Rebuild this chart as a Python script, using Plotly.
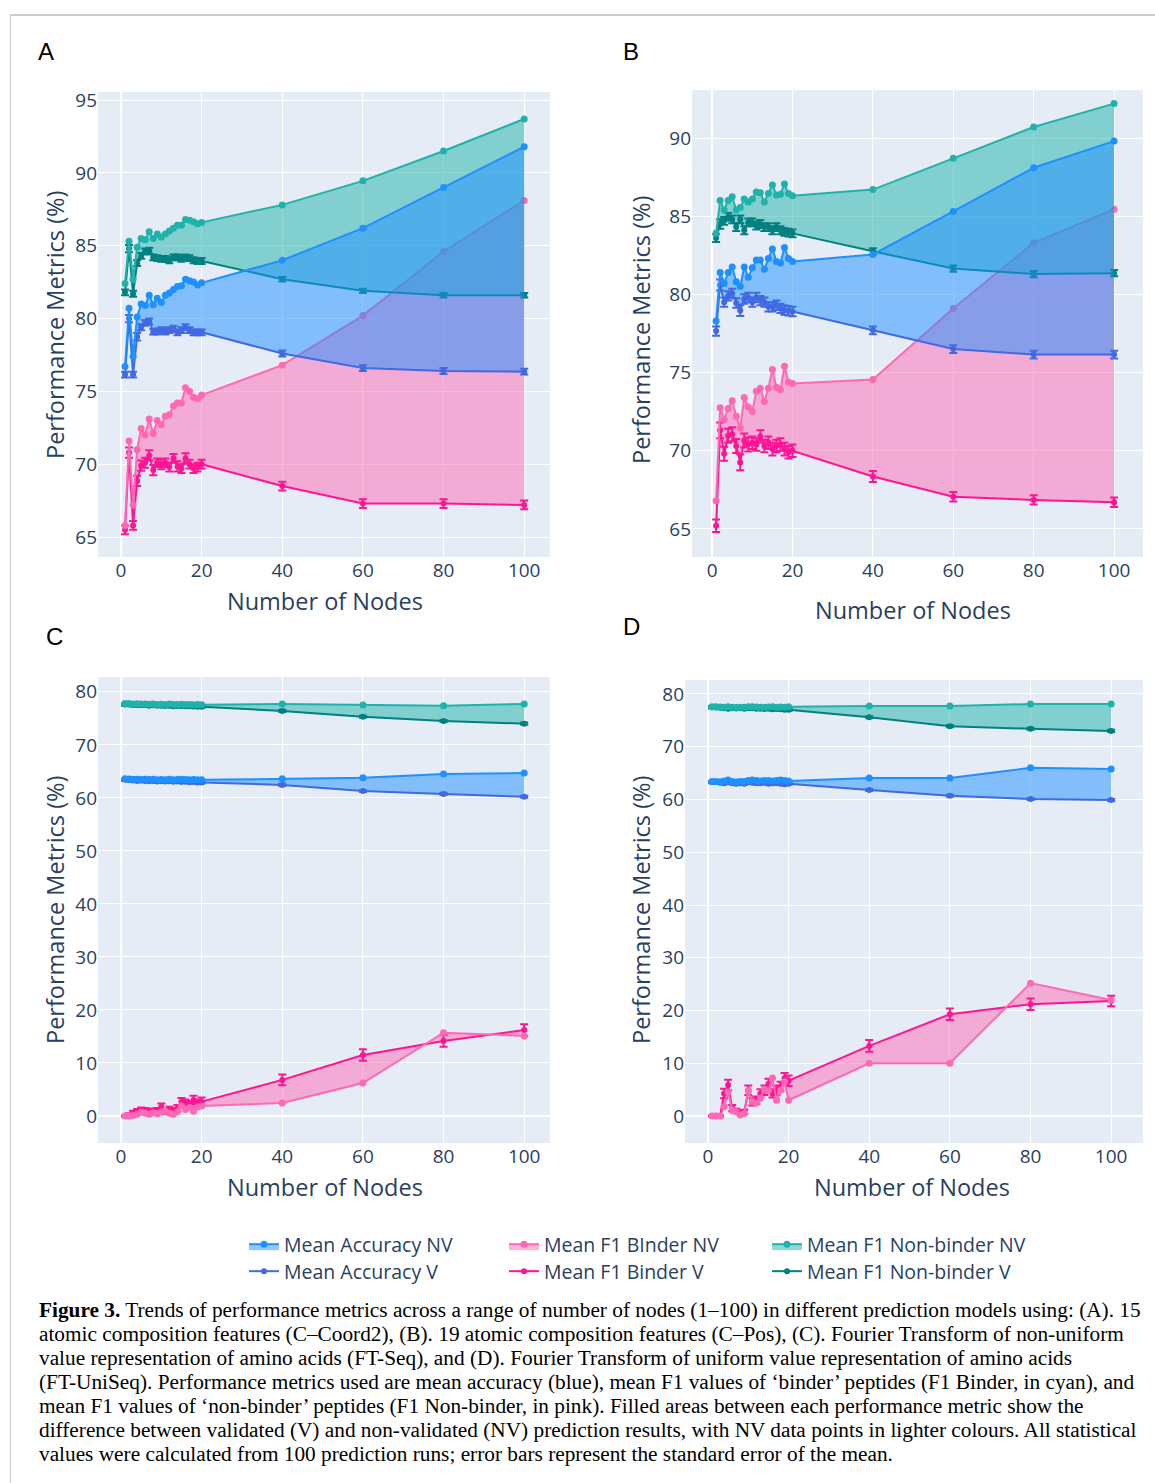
import plotly.graph_objects as go

W, H = 1155, 1483

# ---------------- data ----------------
nodes = [1, 2, 3, 4, 5, 6, 7, 8, 9, 10, 11, 12, 13, 14, 15, 16, 17, 18, 19, 20, 40, 60, 80, 100]

# Panel A
acc_nv_A = [76.7, 80.7, 77.4, 80.1, 81.0, 80.9, 81.6, 80.95, 81.4, 81.1, 81.6, 81.75, 82.0, 82.2, 82.25, 82.7, 82.6, 82.5, 82.3, 82.45, 84.0, 86.2, 89.0, 91.8]
acc_v_A = [76.15, 80.0, 76.15, 78.75, 79.4, 79.7, 79.8, 79.1, 79.1, 79.2, 79.1, 79.2, 79.3, 79.05, 79.2, 79.4, 79.2, 79.05, 79.05, 79.05, 77.6, 76.6, 76.4, 76.35]
binder_nv_A = [65.8, 71.6, 67.2, 71.0, 72.45, 72.0, 73.1, 72.1, 73.0, 72.7, 73.3, 73.4, 74.0, 74.2, 74.2, 75.25, 75.0, 74.6, 74.5, 74.75, 76.8, 80.2, 84.6, 88.1]
binder_v_A = [65.5, 70.8, 65.8, 68.85, 69.9, 70.1, 70.6, 69.6, 70.1, 70.0, 70.1, 69.8, 70.4, 69.85, 69.7, 70.4, 70.0, 69.7, 69.8, 70.0, 68.5, 67.3, 67.3, 67.2]
non_nv_A = [82.4, 85.3, 82.7, 84.9, 85.5, 85.4, 85.96, 85.5, 85.8, 85.6, 85.8, 86.0, 86.2, 86.4, 86.4, 86.8, 86.75, 86.65, 86.5, 86.6, 87.8, 89.45, 91.5, 93.7]
non_v_A = [81.8, 84.8, 81.7, 83.8, 84.3, 84.6, 84.65, 84.2, 84.15, 84.1, 84.1, 84.0, 84.2, 84.2, 84.1, 84.2, 84.15, 84.0, 83.95, 83.95, 82.7, 81.9, 81.6, 81.6]
err_acc_A = [0.2, 0.25, 0.2, 0.25, 0.2, 0.2, 0.2, 0.2, 0.2, 0.2, 0.2, 0.2, 0.2, 0.2, 0.2, 0.2, 0.2, 0.2, 0.2, 0.2, 0.2, 0.2, 0.2, 0.2]
err_binder_A = [0.3, 0.35, 0.3, 0.35, 0.35, 0.35, 0.35, 0.35, 0.3, 0.35, 0.3, 0.3, 0.3, 0.35, 0.3, 0.35, 0.3, 0.3, 0.3, 0.3, 0.3, 0.3, 0.3, 0.3]
err_non_A = [0.2, 0.25, 0.2, 0.2, 0.2, 0.2, 0.2, 0.2, 0.2, 0.2, 0.2, 0.2, 0.2, 0.2, 0.2, 0.2, 0.2, 0.2, 0.2, 0.2, 0.15, 0.15, 0.15, 0.15]

# Panel B
acc_nv_B = [78.3, 81.4, 80.7, 81.4, 81.75, 80.8, 80.5, 81.75, 81.1, 81.7, 82.2, 82.2, 81.6, 82.3, 82.9, 82.1, 82.0, 83.0, 82.3, 82.1, 82.55, 85.3, 88.1, 89.8]
acc_v_B = [77.65, 80.6, 79.5, 79.9, 80.05, 79.45, 78.97, 79.7, 79.8, 79.5, 79.8, 79.6, 79.5, 79.2, 79.2, 79.3, 79.1, 79.0, 78.95, 78.9, 77.7, 76.5, 76.15, 76.15]
binder_nv_B = [66.8, 72.75, 72.0, 72.7, 73.2, 72.2, 71.45, 73.4, 72.8, 72.5, 73.8, 74.0, 73.15, 74.0, 75.2, 74.05, 73.9, 75.4, 74.4, 74.3, 74.55, 79.1, 83.3, 85.45]
binder_v_B = [65.2, 71.3, 69.8, 70.95, 71.05, 70.3, 69.25, 70.65, 70.4, 70.5, 70.4, 70.9, 70.3, 70.5, 70.1, 70.3, 70.4, 70.1, 69.9, 70.0, 68.35, 67.05, 66.85, 66.7]
non_nv_B = [83.9, 86.0, 85.4, 86.0, 86.25, 85.4, 85.55, 86.1, 85.9, 86.1, 86.55, 86.5, 85.9, 86.45, 87.0, 86.35, 86.4, 87.05, 86.45, 86.3, 86.7, 88.7, 90.7, 92.2]
non_v_B = [83.6, 84.5, 84.7, 84.95, 84.8, 84.3, 84.8, 84.1, 84.6, 84.6, 84.4, 84.5, 84.3, 84.3, 84.1, 84.3, 84.1, 84.0, 83.95, 83.9, 82.75, 81.65, 81.3, 81.35]
err_acc_B = [0.3, 0.35, 0.3, 0.3, 0.3, 0.3, 0.35, 0.3, 0.3, 0.3, 0.3, 0.3, 0.3, 0.3, 0.3, 0.3, 0.3, 0.3, 0.3, 0.3, 0.25, 0.25, 0.25, 0.25]
err_binder_B = [0.4, 0.5, 0.45, 0.45, 0.45, 0.45, 0.5, 0.45, 0.45, 0.4, 0.4, 0.4, 0.4, 0.4, 0.4, 0.4, 0.4, 0.4, 0.4, 0.4, 0.35, 0.3, 0.3, 0.3]
err_non_B = [0.25, 0.3, 0.25, 0.25, 0.25, 0.25, 0.25, 0.25, 0.25, 0.25, 0.25, 0.25, 0.25, 0.25, 0.25, 0.25, 0.25, 0.25, 0.25, 0.25, 0.2, 0.2, 0.2, 0.2]

# Panel C
acc_nv_C = [63.6, 63.55, 63.5, 63.5, 63.45, 63.5, 63.45, 63.5, 63.4, 63.45, 63.4, 63.5, 63.4, 63.45, 63.5, 63.45, 63.4, 63.45, 63.4, 63.4, 63.6, 63.8, 64.5, 64.7]
acc_v_C = [63.4, 63.35, 63.3, 63.2, 63.25, 63.2, 63.15, 63.2, 63.1, 63.15, 63.1, 63.15, 63.05, 63.1, 63.0, 63.05, 62.95, 63.0, 62.9, 62.9, 62.45, 61.3, 60.75, 60.2]
binder_nv_C = [0.0, 0.05, 0.1, 0.3, 0.7, 0.5, 0.3, 0.6, 0.4, 0.8, 0.9, 0.5, 0.3, 0.8, 1.9, 1.2, 1.6, 0.9, 1.7, 1.9, 2.45, 6.2, 15.7, 15.1]
binder_v_C = [0.0, 0.2, 0.6, 0.8, 1.1, 1.0, 0.8, 0.9, 1.0, 1.75, 0.8, 1.25, 1.0, 1.45, 2.7, 2.4, 2.1, 3.0, 2.4, 2.7, 6.8, 11.5, 14.15, 16.2]
non_nv_C = [77.8, 77.8, 77.7, 77.75, 77.7, 77.7, 77.65, 77.7, 77.6, 77.65, 77.6, 77.7, 77.6, 77.6, 77.65, 77.6, 77.6, 77.55, 77.6, 77.55, 77.7, 77.5, 77.4, 77.7]
non_v_C = [77.6, 77.6, 77.5, 77.5, 77.45, 77.5, 77.4, 77.45, 77.4, 77.4, 77.35, 77.4, 77.3, 77.35, 77.35, 77.3, 77.3, 77.25, 77.2, 77.2, 76.4, 75.3, 74.5, 74.0]
err_acc_C = [0.2, 0.2, 0.2, 0.2, 0.2, 0.2, 0.2, 0.2, 0.2, 0.2, 0.2, 0.2, 0.2, 0.2, 0.2, 0.2, 0.2, 0.2, 0.2, 0.2, 0.2, 0.2, 0.2, 0.2]
err_binder_C = [0.1, 0.3, 0.4, 0.5, 0.5, 0.5, 0.5, 0.5, 0.5, 0.6, 0.5, 0.5, 0.5, 0.6, 0.7, 0.7, 0.7, 0.8, 0.7, 0.8, 1.0, 1.1, 1.1, 1.1]
err_non_C = [0.2, 0.2, 0.2, 0.2, 0.2, 0.2, 0.2, 0.2, 0.2, 0.2, 0.2, 0.2, 0.2, 0.2, 0.2, 0.2, 0.2, 0.2, 0.2, 0.2, 0.2, 0.2, 0.2, 0.2]

# Panel D
acc_nv_D = [63.4, 63.4, 63.35, 63.5, 63.7, 63.4, 63.3, 63.4, 63.4, 63.6, 63.7, 63.6, 63.5, 63.6, 63.6, 63.5, 63.6, 63.7, 63.6, 63.5, 64.1, 64.1, 66.0, 65.8]
acc_v_D = [63.3, 63.3, 63.2, 63.1, 63.3, 63.1, 63.0, 63.1, 63.0, 63.3, 63.2, 63.1, 63.1, 63.2, 63.0, 63.1, 63.1, 63.0, 62.9, 63.0, 61.8, 60.7, 60.1, 59.9]
binder_nv_D = [0.0, 0.0, 0.0, 1.8, 4.6, 1.1, 0.8, 0.2, 0.5, 4.8, 2.7, 2.5, 3.4, 5.1, 4.9, 7.2, 3.0, 4.9, 6.5, 3.0, 10.0, 10.0, 25.2, 22.0]
binder_v_D = [0.0, 0.0, 0.0, 4.3, 5.9, 1.5, 1.0, 0.6, 0.8, 4.9, 2.7, 3.0, 4.3, 4.9, 6.1, 4.3, 4.9, 5.6, 7.15, 6.7, 13.3, 19.3, 21.2, 21.8]
non_nv_D = [77.6, 77.6, 77.55, 77.5, 77.6, 77.5, 77.45, 77.5, 77.5, 77.6, 77.6, 77.55, 77.5, 77.5, 77.55, 77.6, 77.5, 77.55, 77.5, 77.6, 77.7, 77.7, 78.1, 78.1]
non_v_D = [77.5, 77.45, 77.4, 77.3, 77.2, 77.3, 77.25, 77.3, 77.2, 77.3, 77.3, 77.2, 77.2, 77.15, 77.2, 77.1, 77.15, 77.1, 77.0, 77.0, 75.6, 73.9, 73.4, 73.0]
err_acc_D = [0.2, 0.2, 0.2, 0.2, 0.2, 0.2, 0.2, 0.2, 0.2, 0.2, 0.2, 0.2, 0.2, 0.2, 0.2, 0.2, 0.2, 0.2, 0.2, 0.2, 0.2, 0.2, 0.2, 0.2]
err_binder_D = [0.1, 0.1, 0.1, 0.9, 1.0, 0.6, 0.4, 0.3, 0.4, 0.9, 0.7, 0.7, 0.8, 0.9, 1.0, 0.8, 0.9, 0.9, 1.0, 1.0, 1.1, 1.1, 1.1, 1.0]
err_non_D = [0.2, 0.2, 0.2, 0.2, 0.2, 0.2, 0.2, 0.2, 0.2, 0.2, 0.2, 0.2, 0.2, 0.2, 0.2, 0.2, 0.2, 0.2, 0.2, 0.2, 0.2, 0.2, 0.2, 0.2]

legend_names = ["Mean Accuracy NV", "Mean F1 BInder NV", "Mean F1 Non-binder NV",
                "Mean Accuracy V", "Mean F1 Binder V", "Mean F1 Non-binder V"]
panel_letters = ["A", "B", "C", "D"]
x_title = "Number of Nodes"
y_title = "Performance Metrics (%)"
x_ticks = [0, 20, 40, 60, 80, 100]
y_ticks_AB = [65, 70, 75, 80, 85, 90, 95]
y_ticks_CD = [0, 10, 20, 30, 40, 50, 60, 70, 80]

caption_lines = [
    "<b>Figure 3.</b> Trends of performance metrics across a range of number of nodes (1–100) in different prediction models using: (A). 15",
    "atomic composition features (C–Coord2), (B). 19 atomic composition features (C–Pos), (C). Fourier Transform of non-uniform",
    "value representation of amino acids (FT-Seq), and (D). Fourier Transform of uniform value representation of amino acids",
    "(FT-UniSeq). Performance metrics used are mean accuracy (blue), mean F1 values of ‘binder’ peptides (F1 Binder, in cyan), and",
    "mean F1 values of ‘non-binder’ peptides (F1 Non-binder, in pink). Filled areas between each performance metric show the",
    "difference between validated (V) and non-validated (NV) prediction results, with NV data points in lighter colours. All statistical",
    "values were calculated from 100 prediction runs; error bars represent the standard error of the mean.",
]

# ---------------- styling ----------------
COL = {
    "acc_nv": "#1E90FF", "acc_v": "#4169E1",
    "binder_nv": "#FF69B4", "binder_v": "#FF1493",
    "non_nv": "#20B2AA", "non_v": "#008080",
}
FILL = {
    "acc_nv": "rgba(30,144,255,0.5)",
    "binder_nv": "rgba(255,105,180,0.5)",
    "non_nv": "rgba(32,178,170,0.5)",
}
NAME = {"acc_nv": legend_names[0], "binder_nv": legend_names[1], "non_nv": legend_names[2],
        "acc_v": legend_names[3], "binder_v": legend_names[4], "non_v": legend_names[5]}
# each legend entry lives in its own legend box, placed on a 3x2 grid (pixel position of text start, row centre)
LEG = {"acc_nv": ("legend", 284, 1243), "binder_nv": ("legend2", 544, 1243), "non_nv": ("legend3", 807, 1243),
       "acc_v": ("legend4", 284, 1270), "binder_v": ("legend5", 544, 1270), "non_v": ("legend6", 807, 1270)}

panels = [
    dict(ax="", acc_nv=acc_nv_A, acc_v=acc_v_A, binder_nv=binder_nv_A, binder_v=binder_v_A,
         non_nv=non_nv_A, non_v=non_v_A, e_acc=err_acc_A, e_binder=err_binder_A, e_non=err_non_A),
    dict(ax="2", acc_nv=acc_nv_B, acc_v=acc_v_B, binder_nv=binder_nv_B, binder_v=binder_v_B,
         non_nv=non_nv_B, non_v=non_v_B, e_acc=err_acc_B, e_binder=err_binder_B, e_non=err_non_B),
    dict(ax="3", acc_nv=acc_nv_C, acc_v=acc_v_C, binder_nv=binder_nv_C, binder_v=binder_v_C,
         non_nv=non_nv_C, non_v=non_v_C, e_acc=err_acc_C, e_binder=err_binder_C, e_non=err_non_C),
    dict(ax="4", acc_nv=acc_nv_D, acc_v=acc_v_D, binder_nv=binder_nv_D, binder_v=binder_v_D,
         non_nv=non_nv_D, non_v=non_v_D, e_acc=err_acc_D, e_binder=err_binder_D, e_non=err_non_D),
]

fig = go.Figure()

for i, p in enumerate(panels):
    xa, ya = "x" + p["ax"], "y" + p["ax"]
    for metric, ekey in (("binder", "e_binder"), ("non", "e_non"), ("acc", "e_acc")):
        kv, knv = metric + "_v", metric + "_nv"
        fig.add_trace(go.Scatter(
            x=nodes, y=p[kv], xaxis=xa, yaxis=ya, mode="lines+markers",
            name=NAME[kv], legend=LEG[kv][0], showlegend=(i == 0),
            line=dict(color=COL[kv], width=2), marker=dict(color=COL[kv], size=6),
            error_y=dict(type="data", array=p[ekey], visible=True, color=COL[kv], thickness=2, width=4),
        ))
        fig.add_trace(go.Scatter(
            x=nodes, y=p[knv], xaxis=xa, yaxis=ya, mode="lines+markers",
            name=NAME[knv], legend=LEG[knv][0], showlegend=(i == 0),
            line=dict(color=COL[knv], width=2), marker=dict(color=COL[knv], size=7),
            fill="tonexty", fillcolor=FILL[knv],
        ))


def fx(px):
    return px / W


def fy(py):
    return 1 - py / H


axis_font = dict(family="Open Sans", size=19, color="#2a3f5f")
common_x = dict(tickvals=x_ticks, tickfont=axis_font, gridcolor="white", zerolinecolor="white",
                zerolinewidth=2, showline=False, ticks="", automargin=False)
common_y = dict(tickfont=axis_font, gridcolor="white", zerolinecolor="white",
                zerolinewidth=2, showline=False, ticks="", automargin=False)

layout = dict(
    width=W, height=H, margin=dict(l=0, r=0, t=0, b=0, pad=0, autoexpand=False),
    paper_bgcolor="white", plot_bgcolor="#E5ECF6",
    font=dict(family="Open Sans", color="#2a3f5f"),
    xaxis=dict(domain=[fx(98), fx(550)], range=[-5.7, 106.4], anchor="y", **common_x),
    yaxis=dict(domain=[fy(557), fy(92)], range=[63.63, 95.55], tickvals=y_ticks_AB, anchor="x", **common_y),
    xaxis2=dict(domain=[fx(692), fx(1143)], range=[-5.0, 107.2], anchor="y2", **common_x),
    yaxis2=dict(domain=[fy(557), fy(90)], range=[63.2, 93.07], tickvals=y_ticks_AB, anchor="x2", **common_y),
    xaxis3=dict(domain=[fx(98), fx(550)], range=[-5.7, 106.4], anchor="y3", **common_x),
    yaxis3=dict(domain=[fy(1143), fy(677)], range=[-5.1, 82.8], tickvals=y_ticks_CD, anchor="x3", **common_y),
    xaxis4=dict(domain=[fx(685), fx(1143)], range=[-5.7, 107.9], anchor="y4", **common_x),
    yaxis4=dict(domain=[fy(1143), fy(680)], range=[-5.1, 82.65], tickvals=y_ticks_CD, anchor="x4", **common_y),
    showlegend=True,
)
for key, (lname, tx, ty) in LEG.items():
    layout[lname] = dict(orientation="v", x=fx(tx - 40), y=fy(ty - 18), xanchor="left", yanchor="top",
                         font=dict(family="Open Sans", size=19.5, color="#2a3f5f"),
                         bgcolor="rgba(0,0,0,0)", itemwidth=30, traceorder="normal")
fig.update_layout(**layout)

ann = []
letter_pos = [(46, 52), (631, 52), (54, 636), (631, 626)]
for letter, (lx, ly) in zip(panel_letters, letter_pos):
    ann.append(dict(text=letter, x=fx(lx), y=fy(ly), xref="paper", yref="paper", showarrow=False,
                    xanchor="center", yanchor="middle",
                    font=dict(family="Liberation Sans", size=24, color="black")))
xt_pos = [(325, 601), (913, 610), (325, 1187), (912, 1187)]
for (tx, ty) in xt_pos:
    ann.append(dict(text=x_title, x=fx(tx), y=fy(ty), xref="paper", yref="paper", showarrow=False,
                    xanchor="center", yanchor="middle", font=dict(family="Open Sans", size=23.5, color="#2a3f5f")))
yt_pos = [(55, 325), (641, 330), (55, 910), (641, 910)]
for (tx, ty) in yt_pos:
    ann.append(dict(text=y_title, x=fx(tx), y=fy(ty), xref="paper", yref="paper", showarrow=False,
                    textangle=-90, xanchor="center", yanchor="middle",
                    font=dict(family="Open Sans", size=23.5, color="#2a3f5f")))
for k, line in enumerate(caption_lines):
    ann.append(dict(text=line, x=fx(37), y=fy(1310 + 24 * k), xref="paper", yref="paper", showarrow=False,
                    xanchor="left", yanchor="middle", align="left",
                    font=dict(family="Liberation Serif", size=21.3, color="black")))
fig.update_layout(annotations=ann)

fig.update_layout(shapes=[
    dict(type="line", xref="paper", yref="paper", x0=fx(10), x1=1, y0=fy(15), y1=fy(15),
         line=dict(color="#999999", width=1)),
    dict(type="line", xref="paper", yref="paper", x0=fx(10.5), x1=fx(10.5), y0=fy(15), y1=0,
         line=dict(color="#cccccc", width=1)),
])

post = ("document.body.style.margin='0px';"
        "var gd=document.getElementById('{plot_id}');"
        "gd.style.position='absolute';gd.style.left='0px';gd.style.top='0px';")
fig.write_html("out.html", post_script=post, config={"displayModeBar": False})
